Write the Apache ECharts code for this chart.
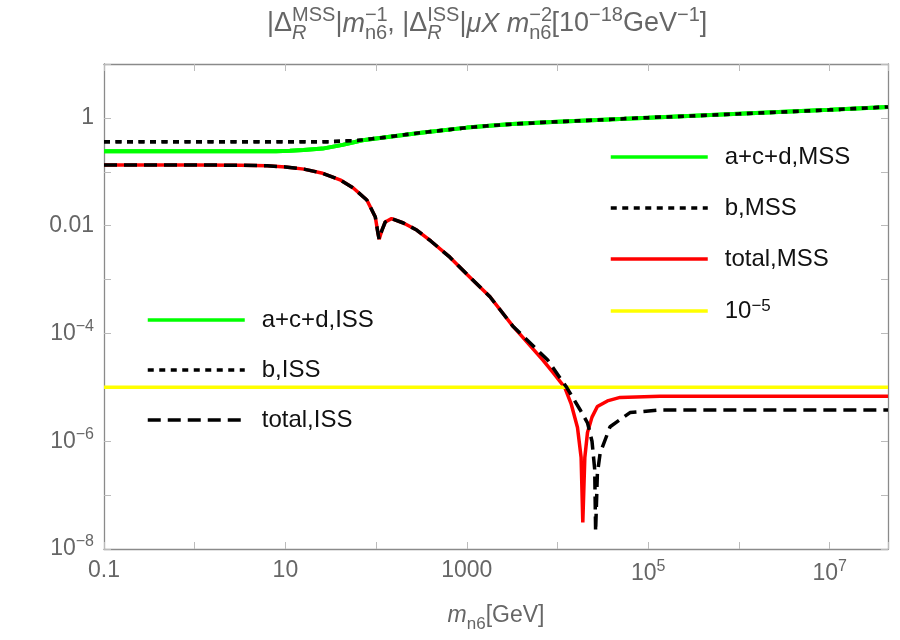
<!DOCTYPE html>
<html>
<head>
<meta charset="utf-8">
<script src="https://cdn.jsdelivr.net/npm/echarts@6/dist/echarts.min.js"></script>
<style>
  html, body { margin: 0; background: #fff; }
  #chart { width: 900px; height: 640px; }
</style>
</head>
<body>
<div id="chart"></div>
<script>
// values (x in GeV, y in 1e-18 GeV^-1)
const xMin = 0.1;
const xMax = 4.4e7;
const yMin = 1e-8;
const yMax = 10;

const greenX = [0.1, 1, 7.9, 11.2, 15.8, 25.7, 42.7, 70.8, 141, 331, 1000, 1778, 3162, 1e4, 1e5, 1e6, 1e7, 4.4e7];
const greenY = [0.241, 0.241, 0.241, 0.245, 0.254, 0.269, 0.316, 0.385, 0.447, 0.537, 0.66, 0.716, 0.767, 0.851, 1.01, 1.19, 1.41, 1.6];

const dotX = [0.1, 1, 10, 20, 32, 62, 141, 331, 1000, 1778, 3162, 1e4, 1e5, 1e6, 1e7, 4.4e7];
const dotY = [0.36, 0.36, 0.36, 0.36, 0.363, 0.38, 0.447, 0.537, 0.66, 0.716, 0.767, 0.851, 1.01, 1.19, 1.41, 1.6];

// shared part of both totals (below ~3 TeV they coincide)
const totalHeadX = [0.1, 1, 3.2, 6.3, 10, 16, 25, 40, 56, 79, 98, 105, 108, 115, 126, 148, 200, 280, 400, 650, 1000, 1800, 3200];
const totalHeadY = [0.134, 0.134, 0.132, 0.129, 0.123, 0.112, 0.095, 0.071, 0.05, 0.03, 0.0145, 0.0071, 0.0056, 0.0079, 0.0117, 0.0135, 0.0112, 0.0083, 0.0052, 0.0026, 0.00126, 4.8e-4, 1.38e-4];

const mssTailX = [6900, 8900, 12000, 14100, 16600, 18200, 19000, 20000, 21400, 24000, 27500, 35500, 49000, 135000, 4.4e7];
const mssTailY = [3.2e-5, 1.9e-5, 1.0e-5, 5.0e-6, 1.8e-6, 5.0e-7, 3.1e-8, 5.0e-7, 1.45e-6, 2.8e-6, 4.4e-6, 5.6e-6, 6.5e-6, 6.8e-6, 6.8e-6];

const issTailX = [7800, 12600, 17800, 21400, 24000, 25700, 26300, 27500, 29500, 38000, 63000, 135000, 4.4e7];
const issTailY = [3.2e-5, 1.0e-5, 3.8e-6, 2.2e-6, 1.0e-6, 3.0e-7, 2.1e-8, 2.5e-7, 6.0e-7, 1.86e-6, 3.4e-6, 3.8e-6, 3.8e-6];

const refX = [0.1, 4.4e7];
const refY = [1e-5, 1e-5];

const xLabelExps = [-1, 1, 3, 5, 7];
const yLabelExps = [-8, -6, -4, -2, 0];

const F = '"Liberation Sans", Arial, sans-serif';
const GRAY = '#666';

function pairs(xs, ys) {
  return xs.map((x, i) => [x, ys[i]]);
}

function expOf(v) {
  const e = Math.round(Math.log10(v));
  return Math.abs(Math.log10(v) - e) < 0.01 ? e : null;
}

function powLabel(e) {
  if (e === -2) return '0.01';
  if (e === -1) return '0.1';
  if (e >= 0 && e <= 3) return String(Math.pow(10, e));
  return '{b|10}{s|' + String(e).replace('-', '\u2212') + '}';
}

const labelRich = {
  b: { fontSize: 23, lineHeight: 30, color: GRAY, fontFamily: F },
  s: { fontSize: 16, lineHeight: 16, color: GRAY, fontFamily: F, verticalAlign: 'top' }
};

function rs(size, lh, extra) {
  return Object.assign({ fontSize: size, lineHeight: lh, color: GRAY, fontFamily: F, fontWeight: 'normal' }, extra || {});
}

const tRich = {
  n: rs(27, 38),
  i: rs(27, 38, { fontStyle: 'italic' }),
  sup: rs(20, 20, { verticalAlign: 'top' }),
  sup0: rs(20, 20, { verticalAlign: 'top', width: 0 }),
  sub: rs(20, 20, { verticalAlign: 'bottom' }),
  subI0: rs(20, 20, { verticalAlign: 'bottom', fontStyle: 'italic', width: 0 })
};

const titleText =
  '{n||\u0394}{subI0|R}{sup|MSS}{n||}{i|m}{sup0|\u22121}{sub|n6}' +
  '{n|, |\u0394}{subI0|R}{sup|ISS}{n||}{i|\u03bcX m}{sup0|\u22122}{sub|n6}' +
  '{n|[10}{sup|\u221218}{n|GeV}{sup|\u22121}{n|]}';

const frameLine = { show: true, lineStyle: { color: '#8a8a8a', width: 1.3 } };
const tickStyle = { show: true, inside: true, length: 7, lineStyle: { color: '#bbb', width: 1 } };

const legendBase = {
  orient: 'vertical',
  padding: 0,
  itemWidth: 97,
  itemHeight: 14,
  selectedMode: false,
  itemStyle: { opacity: 0 },
  lineStyle: { width: 3.5 }
};

const chart = echarts.init(document.getElementById('chart'));

chart.setOption({
  animation: false,
  backgroundColor: '#fff',
  textStyle: { fontFamily: F },
  title: {
    text: titleText,
    left: 262,
    top: 0,
    textStyle: { fontWeight: 'normal', rich: tRich }
  },
  grid: { left: 104, right: 12, top: 64, bottom: 91 },
  legend: [
    Object.assign({}, legendBase, {
      data: ['a+c+d,MSS', 'b,MSS', 'total,MSS', '10^-5'],
      left: 609,
      top: 145,
      itemGap: 27,
      formatter: function (name) {
        return name === '10^-5' ? '{b|10}{s|\u22125}' : name;
      },
      textStyle: {
        fontSize: 24, color: '#111', padding: [0, 0, 0, 12],
        rich: {
          b: { fontSize: 24, lineHeight: 26, color: '#111', fontFamily: F },
          s: { fontSize: 17, lineHeight: 14, color: '#111', fontFamily: F, verticalAlign: 'top' }
        }
      }
    }),
    Object.assign({}, legendBase, {
      data: ['a+c+d,ISS', 'b,ISS', 'total,ISS'],
      left: 146,
      top: 308,
      itemGap: 26,
      textStyle: { fontSize: 24, color: '#111', padding: [0, 0, 0, 12] }
    })
  ],
  xAxis: [
    {
      type: 'log',
      logBase: 10,
      min: xMin,
      max: xMax,
      position: 'bottom',
      axisLine: frameLine,
      axisTick: tickStyle,
      splitLine: { show: false },
      axisLabel: {
        margin: 10,
        fontSize: 23,
        color: GRAY,
        rich: labelRich,
        formatter: function (v) {
          const e = expOf(v);
          return e !== null && xLabelExps.indexOf(e) >= 0 ? powLabel(e) : '';
        }
      },
      name: '{i|m}{sub|n6}{n|[GeV]}',
      nameLocation: 'middle',
      nameGap: 50,
      nameTextStyle: {
        rich: {
          n: rs(23, 34),
          i: rs(23, 34, { fontStyle: 'italic' }),
          sub: rs(17, 16, { verticalAlign: 'bottom' })
        }
      }
    },
    {
      type: 'log',
      logBase: 10,
      min: xMin,
      max: xMax,
      position: 'top',
      axisLine: frameLine,
      axisTick: tickStyle,
      axisLabel: { show: false },
      splitLine: { show: false }
    }
  ],
  yAxis: [
    {
      type: 'log',
      logBase: 10,
      min: yMin,
      max: yMax,
      position: 'left',
      axisLine: frameLine,
      axisTick: tickStyle,
      splitLine: { show: false },
      axisLabel: {
        margin: 10,
        fontSize: 23,
        color: GRAY,
        rich: labelRich,
        formatter: function (v) {
          const e = expOf(v);
          return e !== null && yLabelExps.indexOf(e) >= 0 ? powLabel(e) : '';
        }
      }
    },
    {
      type: 'log',
      logBase: 10,
      min: yMin,
      max: yMax,
      position: 'right',
      axisLine: frameLine,
      axisTick: tickStyle,
      axisLabel: { show: false },
      splitLine: { show: false }
    }
  ],
  series: [
    {
      name: 'a+c+d,MSS', type: 'line', symbol: 'none', silent: true,
      data: pairs(greenX, greenY),
      itemStyle: { color: '#00ff00' },
      lineStyle: { color: '#00ff00', width: 4 }
    },
    {
      name: 'b,MSS', type: 'line', symbol: 'none', silent: true,
      data: pairs(dotX, dotY),
      itemStyle: { color: '#000' },
      lineStyle: { color: '#000', width: 3.5, type: [6, 5.5] }
    },
    {
      name: 'total,MSS', type: 'line', symbol: 'none', silent: true,
      data: pairs(totalHeadX.concat(mssTailX), totalHeadY.concat(mssTailY)),
      itemStyle: { color: '#ff0000' },
      lineStyle: { color: '#ff0000', width: 3.5 }
    },
    {
      name: '10^-5', type: 'line', symbol: 'none', silent: true,
      data: pairs(refX, refY),
      itemStyle: { color: '#ffff00' },
      lineStyle: { color: '#ffff00', width: 3.5 }
    },
    {
      name: 'a+c+d,ISS', type: 'line', symbol: 'none', silent: true,
      data: pairs(greenX, greenY),
      itemStyle: { color: '#00ff00' },
      lineStyle: { color: '#00ff00', width: 4 }
    },
    {
      name: 'b,ISS', type: 'line', symbol: 'none', silent: true,
      data: pairs(dotX, dotY),
      itemStyle: { color: '#000' },
      lineStyle: { color: '#000', width: 3.5, type: [6, 5.5] }
    },
    {
      name: 'total,ISS', type: 'line', symbol: 'none', silent: true,
      data: pairs(totalHeadX.concat(issTailX), totalHeadY.concat(issTailY)),
      itemStyle: { color: '#000' },
      lineStyle: { color: '#000', width: 3.5, type: [13, 7] }
    }
  ]
});
</script>
</body>
</html>
